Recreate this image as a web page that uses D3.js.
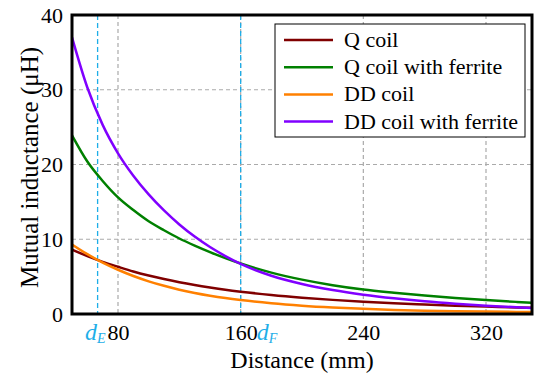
<!DOCTYPE html>
<html>
<head>
<meta charset="utf-8">
<script src="https://cdn.jsdelivr.net/npm/d3@7"></script>
<style>
  html, body { margin: 0; padding: 0; background: #fff; }
  svg { display: block; }
  svg text { font-family: "Liberation Serif", "DejaVu Serif", "Times New Roman", serif; }
</style>
</head>
<body>
<svg id="chart" width="540" height="375"></svg>
<script>
// Coil-to-coil distance (mm)
const distance = [50, 60, 70, 80, 90, 100, 110, 120, 130, 140, 150, 160, 180, 200, 220, 240, 260, 280, 300, 320, 340, 350];

// Mutual inductance (μH) for each coil arrangement
const qCoil          = [8.6, 7.74, 6.98, 6.32, 5.69, 5.15, 4.67, 4.25, 3.88, 3.55, 3.25, 2.99, 2.55, 2.19, 1.89, 1.65, 1.44, 1.27, 1.12, 0.99, 0.88, 0.82];
const qCoilFerrite   = [23.9, 20.4, 17.8, 15.6, 13.9, 12.4, 11.2, 10.1, 9.15, 8.28, 7.48, 6.75, 5.54, 4.6, 3.86, 3.28, 2.85, 2.47, 2.14, 1.86, 1.62, 1.51];
const ddCoil         = [9.3, 8.0, 6.88, 5.92, 5.08, 4.37, 3.77, 3.25, 2.82, 2.45, 2.13, 1.86, 1.43, 1.11, 0.87, 0.686, 0.543, 0.45, 0.38, 0.325, 0.28, 0.265];
const ddCoilFerrite  = [37.0, 30.3, 25.3, 21.5, 18.5, 16.0, 13.85, 11.98, 10.36, 8.96, 7.75, 6.7, 5.12, 4.02, 3.21, 2.59, 2.1, 1.7, 1.38, 1.12, 0.9, 0.81];

const seriesNames  = ["Q coil", "Q coil with ferrite", "DD coil", "DD coil with ferrite"];
const seriesValues = [qCoil, qCoilFerrite, ddCoil, ddCoilFerrite];
const seriesColors = ["#800000", "#008000", "#ff8000", "#8000ff"];

const xTicks = [80, 160, 240, 320];
const yTicks = [0, 10, 20, 30, 40];

// Marked distances d_E and d_F
const markerNames = ["E", "F"];
const markerValues = [66.7, 160];

const svg = d3.select("#chart");
const plotLeft = 72, plotRight = 532, plotTop = 15, plotBottom = 314;

const x = d3.scaleLinear().domain([50, 350]).range([plotLeft, plotRight]);
const y = d3.scaleLinear().domain([0, 40]).range([plotBottom, plotTop]);

const guideBlue = "#1eaee8";

// grid
const grid = svg.append("g");
grid.selectAll("line.gy").data(yTicks.filter(v => v > 0 && v < 40)).join("line")
  .attr("x1", plotLeft).attr("x2", plotRight)
  .attr("y1", d => y(d)).attr("y2", d => y(d))
  .attr("stroke", "#aaaaaa").attr("stroke-width", 1.2).attr("stroke-dasharray", "4,3");
grid.selectAll("line.gx").data(xTicks).join("line")
  .attr("x1", d => x(d)).attr("x2", d => x(d))
  .attr("y1", plotTop).attr("y2", plotBottom)
  .attr("stroke", "#aaaaaa").attr("stroke-width", 1.2).attr("stroke-dasharray", "4,3");

// d_E / d_F guide lines
svg.append("g").selectAll("line").data(markerValues).join("line")
  .attr("x1", d => x(d)).attr("x2", d => x(d))
  .attr("y1", plotTop).attr("y2", plotBottom)
  .attr("stroke", guideBlue).attr("stroke-width", 1.3).attr("stroke-dasharray", "5,3");

// curves
svg.append("clipPath").attr("id", "plotClip").append("rect")
  .attr("x", plotLeft).attr("y", plotTop).attr("width", plotRight - plotLeft).attr("height", plotBottom - plotTop);

const line = d3.line()
  .x((d, i) => x(distance[i]))
  .y(d => y(d))
  .curve(d3.curveMonotoneX);

svg.append("g").attr("clip-path", "url(#plotClip)")
  .selectAll("path").data(seriesValues).join("path")
  .attr("d", d => line(d))
  .attr("fill", "none")
  .attr("stroke", (d, i) => seriesColors[i])
  .attr("stroke-width", 2.5);

// frame
svg.append("rect")
  .attr("x", plotLeft).attr("y", plotTop).attr("width", plotRight - plotLeft).attr("height", plotBottom - plotTop)
  .attr("fill", "none").attr("stroke", "#000").attr("stroke-width", 3);

// axes
const xAxis = svg.append("g").attr("transform", `translate(0,${plotBottom})`)
  .call(d3.axisBottom(x).tickValues(xTicks).tickSize(0).tickPadding(10).tickFormat(d3.format("d")));
xAxis.select(".domain").remove();
xAxis.attr("font-family", null);
xAxis.selectAll("text").attr("font-size", 22).attr("fill", "#000");

const yAxis = svg.append("g").attr("transform", `translate(${plotLeft},0)`)
  .call(d3.axisLeft(y).tickValues(yTicks).tickSize(0).tickPadding(9).tickFormat(d3.format("d")));
yAxis.select(".domain").remove();
yAxis.attr("font-family", null);
yAxis.selectAll("text").attr("font-size", 22).attr("fill", "#000");

// d_E / d_F labels
const markLabels = svg.append("g").selectAll("text").data(markerNames).join("text")
  .attr("x", (d, i) => i === 0 ? x(80) - 33 : x(160) + 16)
  .attr("y", 340)
  .attr("fill", guideBlue)
  .attr("font-style", "italic")
  .attr("font-size", 24);
markLabels.append("tspan").text("d");
markLabels.append("tspan").attr("dy", 3).attr("font-size", 14).text(d => d);

// axis titles
svg.append("text")
  .attr("x", (plotLeft + plotRight) / 2).attr("y", 368)
  .attr("text-anchor", "middle").attr("font-size", 24)
  .text("Distance (mm)");
svg.append("text")
  .attr("transform", `translate(38,${(plotTop + plotBottom) / 2 + 3}) rotate(-90)`)
  .attr("text-anchor", "middle").attr("font-size", 25)
  .text("Mutual inductance (μH)");

// legend
const legend = svg.append("g");
legend.append("rect")
  .attr("x", 275).attr("y", 24).attr("width", 250).attr("height", 113)
  .attr("fill", "#fff").attr("stroke", "#000").attr("stroke-width", 1);
const entries = legend.selectAll("g.entry").data(seriesNames).join("g")
  .attr("transform", (d, i) => `translate(0,${40 + i * 27.2})`);
entries.append("line")
  .attr("x1", 284).attr("x2", 333).attr("y1", 0).attr("y2", 0)
  .attr("stroke", (d, i) => seriesColors[i]).attr("stroke-width", 2.5);
entries.append("text")
  .attr("x", 344).attr("y", 7)
  .attr("font-size", 22)
  .text(d => d);
</script>
</body>
</html>
